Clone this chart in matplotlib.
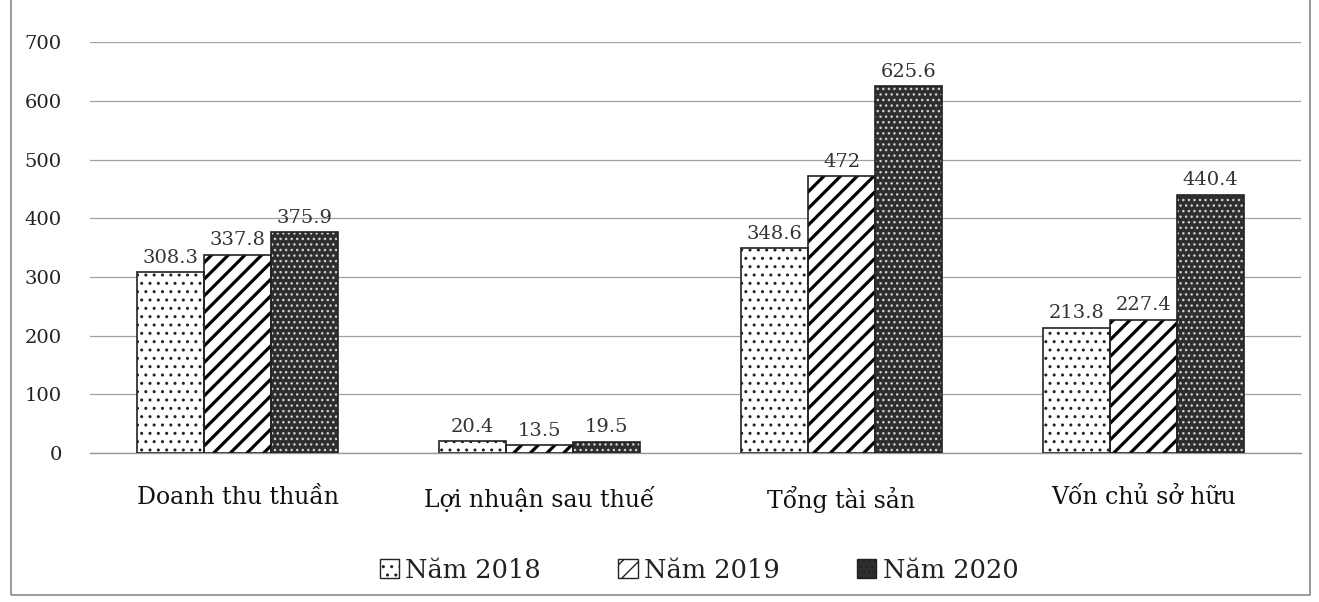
import matplotlib.pyplot as plt
import matplotlib.patches as mpatches
import numpy as np

categories = ['Doanh thu thuần', 'Lợi nhuận sau thuế', 'Tổng tài sản', 'Vốn chủ sở hữu']
years = ['Năm 2018', 'Năm 2019', 'Năm 2020']
values = {
    'Năm 2018': [308.3, 20.4, 348.6, 213.8],
    'Năm 2019': [337.8, 13.5, 472, 227.4],
    'Năm 2020': [375.9, 19.5, 625.6, 440.4],
}
labels = {
    'Năm 2018': ['308.3', '20.4', '348.6', '213.8'],
    'Năm 2019': ['337.8', '13.5', '472', '227.4'],
    'Năm 2020': ['375.9', '19.5', '625.6', '440.4'],
}

plt.rcParams['font.family'] = ['DejaVu Serif']

fig = plt.figure(figsize=(13.19, 6.02), dpi=100)
ax = fig.add_axes([0.068, 0.2475, 0.918, 0.6825])

x = np.arange(len(categories))
w = 0.222
offsets = [-w, 0, w]
styles = {
    'Năm 2018': dict(face='white', hatch='..', hcol='#222222', hlw=1.0),
    'Năm 2019': dict(face='white', hatch='//', hcol='black', hlw=2.3),
    'Năm 2020': dict(face='#2e2e2e', hatch='...', hcol='#d0d0d0', hlw=1.0),
}

handles = []
for yr, off in zip(years, offsets):
    st = styles[yr]
    with plt.rc_context({'hatch.linewidth': st['hlw']}):
        # fill + hatch in the hatch colour, then an outline on top
        ax.bar(x + off, values[yr], w, color=st['face'], hatch=st['hatch'],
               edgecolor=st['hcol'], linewidth=0, zorder=3)
        handles.append(mpatches.Patch(facecolor=st['face'], hatch=st['hatch'],
                                      edgecolor='#222222', linewidth=1.0, label=yr))
    ax.bar(x + off, values[yr], w, fill=False, edgecolor='#222222',
           linewidth=1.2, zorder=4)
    for xi, v, t in zip(x + off, values[yr], labels[yr]):
        ax.text(xi, v + 9, t, ha='center', va='bottom', fontsize=14,
                color='#333333', zorder=5)

ax.set_ylim(0, 700)
ax.set_yticks(range(0, 701, 100))
ax.set_xlim(-0.49, 3.52)
ax.set_xticks(x)
ax.set_xticklabels(categories, fontsize=17, color='#111111')
ax.tick_params(axis='x', length=0, pad=24)
ax.tick_params(axis='y', length=0, pad=20, labelsize=14, labelcolor='#222222')
ax.grid(axis='y', color='#a0a0a0', linewidth=0.9, zorder=0)
ax.axhline(0, color='#999999', linewidth=1.0, zorder=1, clip_on=False)
for s in ax.spines.values():
    s.set_visible(False)

fig.legend(handles=handles, loc='center', bbox_to_anchor=(0.53, 0.053), ncol=3,
           frameon=False, fontsize=18.5, handlelength=0.75, handleheight=0.75,
           handletextpad=0.25, columnspacing=3.0, labelcolor='#222222')

fig.patches.append(mpatches.Rectangle((0.008, 0.012), 0.985, 1.2,
                                      transform=fig.transFigure, fill=False,
                                      edgecolor='#8a8a8a', linewidth=1.2))

fig.savefig('out.png', dpi=100)
